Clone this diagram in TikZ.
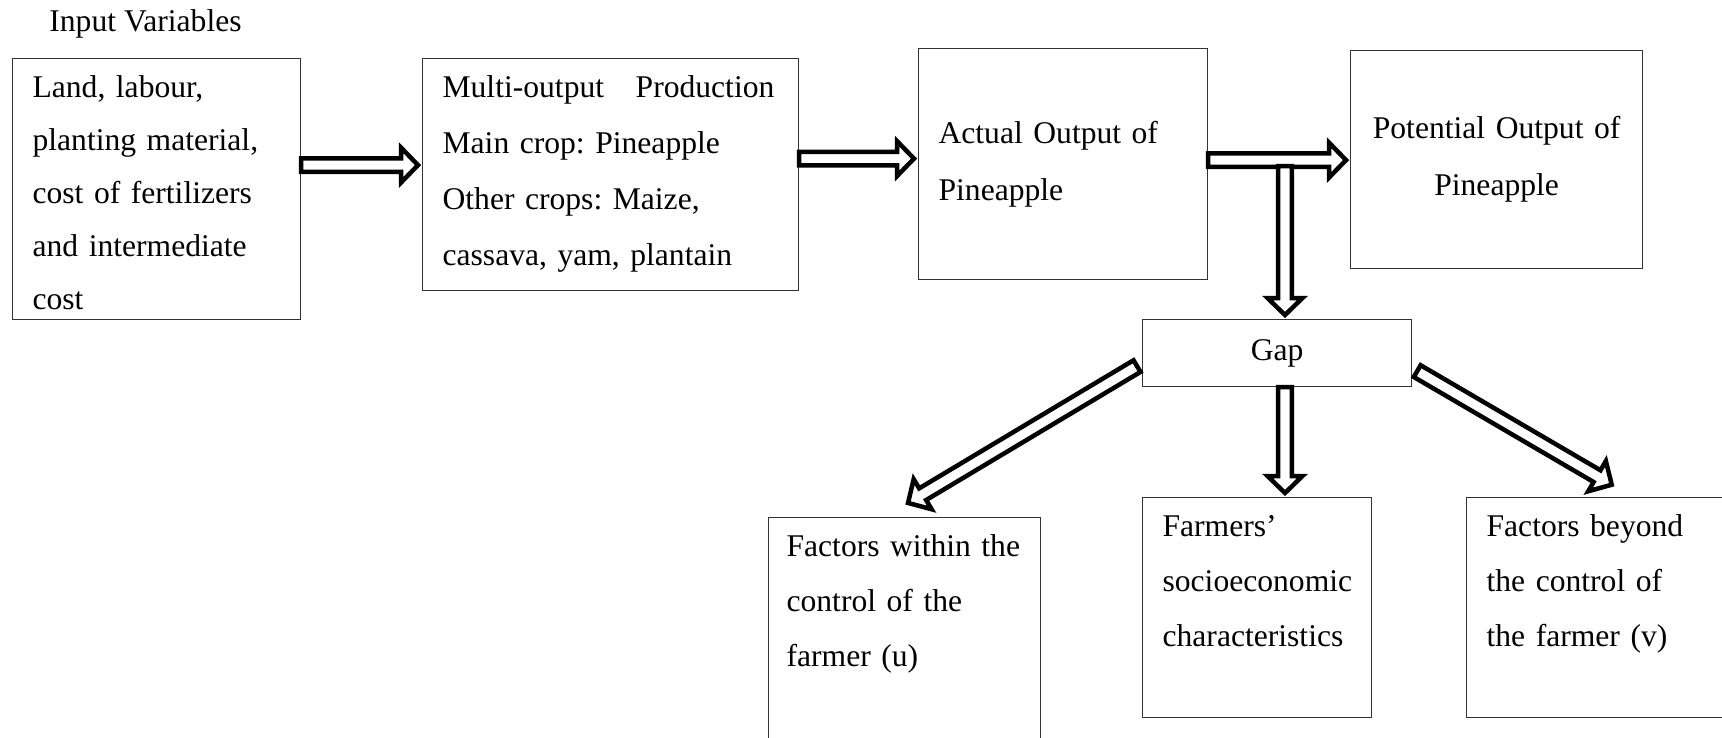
\documentclass[tikz,border=0pt]{standalone}
\usepackage{fontspec}
\setmainfont{Liberation Serif}
\frenchspacing
\usetikzlibrary{calc}
\tikzstyle{block} = [rectangle, draw=black!80, line width=0.6pt, anchor=north west,
    align=left, inner xsep=10pt, inner ysep=8.5pt, text height=11pt]
\tikzstyle{middle} = [rectangle, draw=black!80, line width=0.6pt, anchor=north west,
    inner xsep=10pt]
\tikzstyle{fat} = [draw, fill=white, line width=2.25pt, to path={
    let \p1=(\tikztostart), \p2=(\tikztotarget),
        \n1={atan2(\y2-\y1,\x2-\x1)}, \n2={veclen(\x2-\x1,\y2-\y1)-2pt} in
    ($(\p1)+(\n1+90:3.4pt)$) -- ($(\p1)+(\n1:\n2-8.5pt)+(\n1+90:3.4pt)$)
    -- ($(\p1)+(\n1:\n2-8.5pt)+(\n1+90:8.75pt)$) -- ($(\p1)+(\n1:\n2)$)
    -- ($(\p1)+(\n1:\n2-8.5pt)+(\n1-90:8.75pt)$) -- ($(\p1)+(\n1:\n2-8.5pt)+(\n1-90:3.4pt)$)
    -- ($(\p1)+(\n1-90:3.4pt)$) -- cycle}]

\begin{document}
\begin{tikzpicture}[x=0.5pt, y=-0.5pt, font=\fontsize{15.8}{27.5}\selectfont]
    \useasboundingbox (0,0) rectangle (1722,738);
    % Place nodes
    \node [anchor=base west, inner sep=0pt] (varlabel) at (49,32) {Input Variables};
    \node [block, text width=124pt, text depth=102.5pt, font=\fontsize{15.8}{26.5}\selectfont] (inputs) at (12,58)
        {Land, labour,\\ planting material,\\ cost of fertilizers\\ and intermediate\\ cost};
    \node [block, text width=168pt, text depth=88pt, font=\fontsize{15.8}{28}\selectfont] (multi) at (422,58)
        {Multi-output\ \ \ Production\\ Main crop: Pineapple\\ Other crops: Maize,\\ cassava, yam, plantain};
    \node [middle, text width=124.5pt, minimum height=115.5pt, align=left, font=\fontsize{15.8}{28.5}\selectfont] (actual) at (918,48)
        {Actual Output of\\ Pineapple};
    \node [middle, text width=126pt, minimum height=109pt, align=center, font=\fontsize{15.8}{28.5}\selectfont] (potential) at (1350,50)
        {Potential Output of\\ Pineapple};
    \node [middle, text width=114.5pt, minimum height=33.5pt, align=center] (gap) at (1142,319) {Gap};
    \node [block, inner xsep=9pt, text width=118pt, text depth=88pt] (within) at (768,517)
        {Factors within the\\ control of the\\ farmer (u)};
    \node [block, text width=94.5pt, text depth=82pt] (socio) at (1142,497)
        {Farmers’\\ socioeconomic\\ characteristics};
    \node [block, text width=129pt, text depth=82pt] (beyond) at (1466,497)
        {Factors beyond\\ the control of\\ the farmer (v)};
    \coordinate (fork) at (1285,166);
    % Draw edges
    \path [fat] ([yshift=12pt]inputs.east) to ([yshift=12pt]inputs.east -| multi.west);
    \path [fat] ([yshift=8pt]multi.east) to ([yshift=8pt]multi.east -| actual.west);
    \path [fat] ([yshift=2pt]actual.east) to ([yshift=2pt]actual.east -| potential.west);
    \path [fat] (fork) to (fork |- gap.north);
    \path [fat] (gap.south -| fork) to (fork |- socio.north);
    \path [fat] ([xshift=-2.5pt,yshift=-6.5pt]gap.west) to ([yshift=6pt]within.north);
    \path [fat] ([xshift=2.5pt,yshift=-9pt]gap.east) to ([yshift=5pt]beyond.north);
\end{tikzpicture}
\end{document}
